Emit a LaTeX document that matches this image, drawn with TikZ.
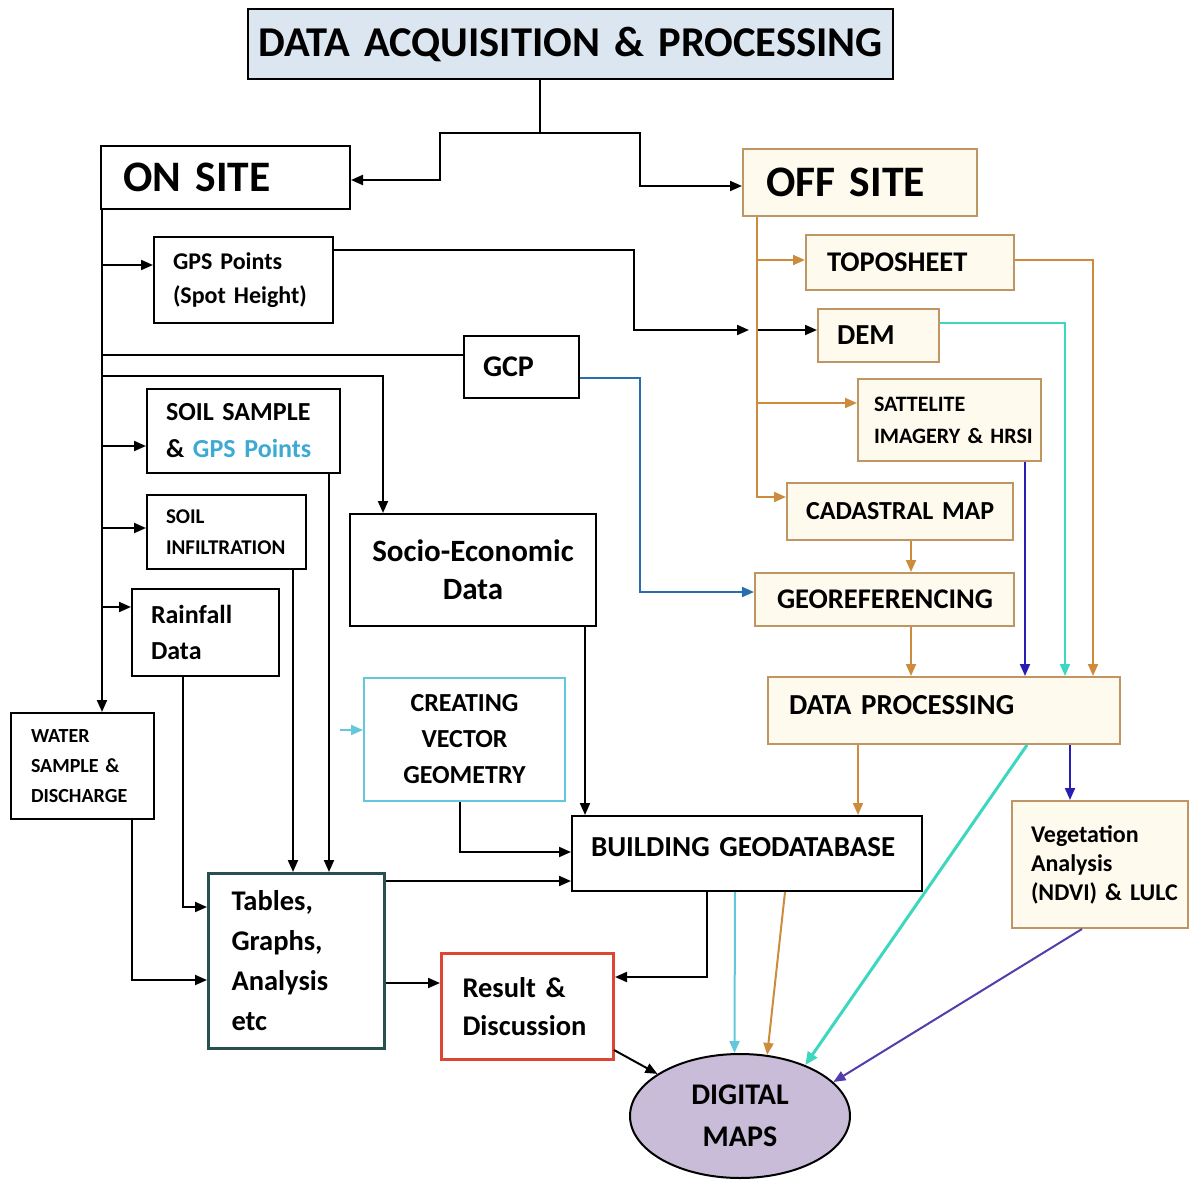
\documentclass[tikz,border=0pt]{standalone}
\usepackage{fontspec}
\setmainfont{Carlito}[WordSpace=0.85]
\usetikzlibrary{arrows.meta,shapes.geometric,calc}
\definecolor{titlefill}{RGB}{220,230,240}
\definecolor{tanb}{RGB}{190,150,100}
\definecolor{cream}{RGB}{255,250,238}
\definecolor{orng}{RGB}{205,140,60}
\definecolor{tealc}{RGB}{60,215,190}
\definecolor{lcyan}{RGB}{100,200,220}
\definecolor{dblue}{RGB}{40,30,180}
\definecolor{pblue}{RGB}{85,60,170}
\definecolor{gcpc}{RGB}{40,110,175}
\definecolor{tabc}{RGB}{40,80,80}
\definecolor{resc}{RGB}{220,70,50}
\definecolor{dmfill}{RGB}{200,188,216}
\definecolor{gpsc}{RGB}{60,170,210}
\newcommand\fsz[2]{\fontsize{#1}{#2}\selectfont}
% #1 style, #2 name, #3 x1, #4 y1, #5 x2, #6 y2, #7 left pad, #8 text
\newcommand\mkbox[8]{%
  \pgfmathsetmacro\bw{#5-#3}\pgfmathsetmacro\bh{#6-#4}\pgfmathsetmacro\tw{#5-#3-2*#7}%
  \node[#1, anchor=north west, minimum width=\bw pt, minimum height=\bh pt,
        inner xsep=#7 pt, inner ysep=0pt, text width=\tw pt] (#2) at (#3,#4) {#8};}
\tikzset{
  box/.style={draw=black, line width=2pt, fill=white, align=left},
  obox/.style={draw=tanb, line width=2pt, fill=cream, align=left},
  fs/.style 2 args={font=\bfseries\fsz{#1}{#2}},
  ln/.style={draw=black, line width=2pt},
  arr/.style={-{Triangle[length=12pt,width=10pt]}},
  oln/.style={draw=orng, line width=2pt, -{Triangle[length=12pt,width=10pt]}},
  tln/.style={draw=tealc, line width=2pt, -{Triangle[length=12pt,width=10pt]}},
  bln/.style={draw=dblue, line width=2pt, -{Triangle[length=12pt,width=10pt]}},
}
\begin{document}
\begin{tikzpicture}[x=1pt,y=-1pt]
\useasboundingbox (0,0) rectangle (1189,1180);
% boxes
\mkbox{box, fill=titlefill, align=center, fs={42.5}{50}}{title}{247}{8}{892}{78}{2}{DATA~ACQUISITION~\&~PROCESSING}
\mkbox{box, fs={43.5}{50}}{onsite}{100}{145}{349}{208}{22}{ON~SITE}
\mkbox{obox, fs={43.5}{50}}{offsite}{742}{148}{976}{215}{23}{OFF~SITE}
\mkbox{box, fs={24}{34}}{gps}{153}{236}{332}{322}{19}{GPS~Points\\(Spot~Height)}
\mkbox{box, fs={30}{34}}{gcp}{463}{335}{578}{397}{19}{GCP}
\mkbox{box, fs={26}{37}}{soil}{146}{388}{339}{472}{19}{SOIL~SAMPLE\\\&~{\color{gpsc}GPS~Points}}
\mkbox{box, fs={21}{31}}{infil}{146}{494}{305}{568}{19}{SOIL\\INFILTRATION}
\mkbox{box, fs={26}{36}}{rain}{131}{588}{278}{675}{19}{Rainfall\\Data}
\mkbox{box, fs={20}{30}}{water}{10}{712}{153}{818}{20}{WATER\\SAMPLE~\&\\DISCHARGE}
\mkbox{box, align=center, fs={31}{38}}{socio}{349}{513}{595}{625}{4}{Socio-Economic\\Data}
\mkbox{box, draw=lcyan, align=center, fs={26}{36}}{creating}{363}{677}{564}{800}{4}{CREATING\\VECTOR\\GEOMETRY}
\mkbox{box, fs={29}{34}}{build}{571}{815}{921}{890}{19}{\raisebox{14pt}{BUILDING~GEODATABASE}}
\mkbox{box, draw=tabc, line width=3pt, fs={28.5}{40}}{tables}{207}{872}{383}{1047}{23}{Tables,\\Graphs,\\Analysis\\etc}
\mkbox{box, draw=resc, line width=3pt, fs={28.5}{38}}{result}{440}{952}{612}{1058}{21}{Result~\&\\Discussion}
\mkbox{obox, fs={28.5}{34}}{topo}{805}{234}{1013}{289}{21}{TOPOSHEET}
\mkbox{obox, fs={29}{34}}{dem}{817}{308}{938}{361}{19}{DEM}
\mkbox{obox, fs={22}{32}}{sat}{857}{378}{1040}{460}{16}{SATTELITE\\IMAGERY~\&~HRSI}
\mkbox{obox, fs={26}{34}}{cadastral}{786}{482}{1012}{539}{19}{CADASTRAL~MAP}
\mkbox{obox, fs={28.5}{34}}{georef}{754}{572}{1013}{625}{22}{GEOREFERENCING}
\mkbox{obox, fs={29}{34}}{dp}{767}{676}{1119}{743}{21}{\raisebox{12pt}{DATA~PROCESSING}}
\mkbox{obox, fs={24}{29}}{veg}{1011}{800}{1187}{927}{19}{Vegetation\\Analysis\\(NDVI)~\&~LULC}
\node[ellipse, draw=black, line width=2pt, fill=dmfill, minimum width=220pt, minimum height=124pt,
      fs={30}{42}, align=center, inner sep=0pt] (dm) at (740,1116) {DIGITAL\\MAPS};
% title to sites
\draw[ln,arr] (540,0 |- title.south) -- (540,133) -- (440,133) -- (440,180) -- (onsite.east |- 0,180);
\draw[ln,arr] (540,133) -- (640,133) -- (640,186) -- (offsite.west |- 0,186);
% on-site trunk
\draw[ln,arr] (102,0 |- onsite.south) -- (102,0 |- water.north);
\draw[ln,arr] (102,265) -- (gps.west |- 0,265);
\draw[ln] (102,355) -- (gcp.west |- 0,355);
\draw[ln,arr] (102,376) -- (383,376) -- (383,0 |- socio.north);
\draw[ln,arr] (102,446) -- (soil.west |- 0,446);
\draw[ln,arr] (102,528) -- (infil.west |- 0,528);
\draw[ln,arr] (102,607) -- (rain.west |- 0,607);
% GPS to DEM
\coordinate (offtrunk) at (757,330);
\draw[ln,arr,shorten >=8pt] (gps.east |- 0,250) -- (634,250) -- (634,330) -- (offtrunk);
\draw[ln,arr] (offtrunk) -- (dem.west |- offtrunk);
% off-site trunk
\draw[oln] (757,0 |- offsite.south) -- (757,497) -- (cadastral.west |- 0,497);
\draw[oln] (757,260) -- (topo.west |- 0,260);
\draw[oln] (757,403) -- (sat.west |- 0,403);
\draw[oln] (topo.east |- 0,260) -- (1093,260) -- (1093,0 |- dp.north);
\draw[tln] (dem.east |- 0,323) -- (1065,323) -- (1065,0 |- dp.north);
\draw[bln] (1025,0 |- sat.south) -- (1025,0 |- dp.north);
\draw[oln] (911,0 |- cadastral.south) -- (911,0 |- georef.north);
\draw[oln] (911,0 |- georef.south) -- (911,0 |- dp.north);
\draw[draw=gcpc, line width=2pt, -{Triangle[length=12pt,width=10pt]}] (gcp.east |- 0,378) -- (640,378) -- (640,592) -- (georef.west |- 0,592);
\draw[oln] (858,0 |- dp.south) -- (858,0 |- build.north);
\draw[bln] (1070,0 |- dp.south) -- (1070,0 |- veg.north);
\draw[draw=tealc, line width=3pt, -{Triangle[length=13pt,width=11pt]}] (1027,0 |- dp.south) -- (dm.38);
\draw[draw=pblue, line width=2pt, -{Triangle[length=12pt,width=10pt]}] (1082,0 |- veg.south) -- (dm.20);
% on-site lower
\draw[ln,arr] (329,0 |- soil.south) -- (329,0 |- tables.north);
\draw[ln,arr] (293,0 |- infil.south) -- (293,0 |- tables.north);
\draw[ln,arr] (183,0 |- rain.south) -- (183,907) -- (tables.west |- 0,907);
\draw[ln,arr] (132,0 |- water.south) -- (132,980) -- (tables.west |- 0,980);
\coordinate (cvs) at (340,730);
\draw[draw=lcyan, line width=2pt, -{Triangle[length=12pt,width=10pt]}] (cvs) -- (creating.west |- cvs);
\draw[ln,arr] (460,0 |- creating.south) -- (460,852) -- (build.west |- 0,852);
\draw[ln,arr] (585,0 |- socio.south) -- (585,0 |- build.north);
\draw[ln,arr] (tables.east |- 0,881) -- (build.west |- 0,881);
\draw[ln,arr] (tables.east |- 0,983) -- (result.west |- 0,983);
\draw[ln,arr] (707,0 |- build.south) -- (707,977) -- (result.east |- 0,977);
\draw[ln,arr] (614,1050) -- (dm.153);
\draw[draw=lcyan, line width=2pt, -{Triangle[length=12pt,width=10pt]}] (735,0 |- build.south) -- (dm.95);
\draw[oln] (785,0 |- build.south) -- (dm.66);
\end{tikzpicture}
\end{document}
